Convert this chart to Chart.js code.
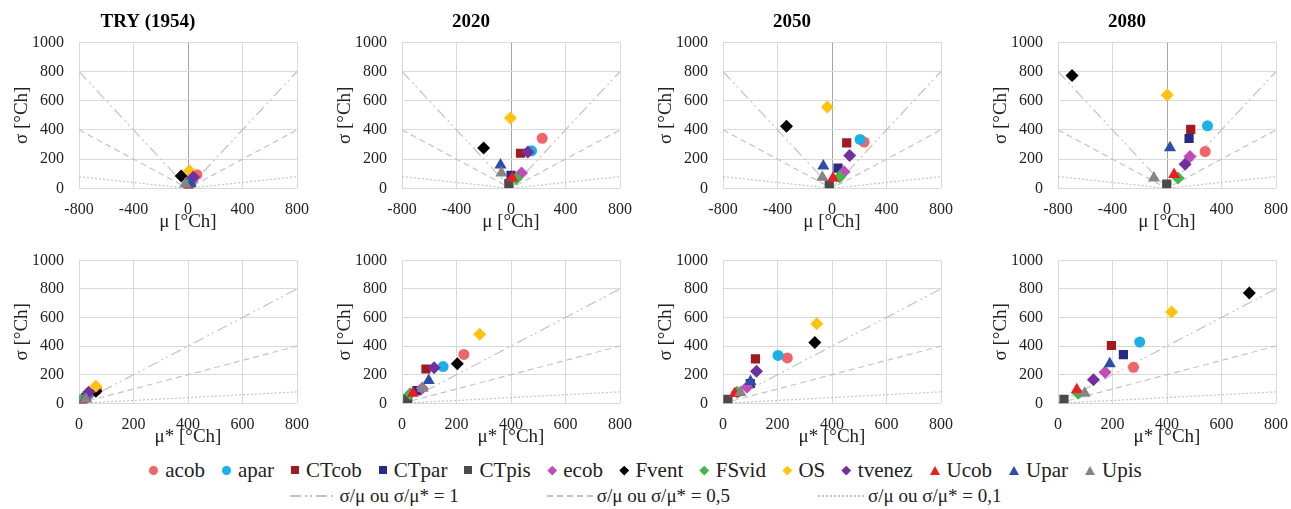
<!DOCTYPE html>
<html>
<head>
<meta charset="utf-8">
<script src="https://cdn.jsdelivr.net/npm/chart.js@4.4.1/dist/chart.umd.min.js"></script>
<style>
  html, body { margin: 0; padding: 0; background: #fff; width: 1291px; height: 509px; overflow: hidden; }
  body { position: relative; font-family: 'Liberation Serif', 'Times New Roman', serif; color: #222; }
  canvas.panel { position: absolute; }
  .legend { position: absolute; left: 0; width: 1291px; display: flex; justify-content: center; align-items: center; white-space: nowrap; }
  .legend .item { display: flex; align-items: center; }
  .mk { display: inline-block; margin-right: 7px; }
  .mk.circle { width: 9px; height: 9px; border-radius: 50%; }
  .mk.rect { width: 8px; height: 8px; }
  .mk.rectRot { width: 6.5px; height: 6.5px; transform: rotate(45deg); margin-left: 1px; margin-right: 8px; }
  .mk.triangle { width: 0; height: 0; border-left: 5px solid transparent; border-right: 5px solid transparent; border-bottom-width: 9px; border-bottom-style: solid; background: none !important; }
</style>
</head>
<body>
<div id="charts"></div>
<div class="legend" id="legend1" style="top:458px;height:24px;font-size:21px;"></div>
<div class="legend" id="legend2" style="top:484px;height:24px;font-size:19px;"></div>
<script>
// Séries, na ordem da legenda
const series = ['acob', 'apar', 'CTcob', 'CTpar', 'CTpis', 'ecob', 'Fvent', 'FSvid', 'OS', 'tvenez', 'Ucob', 'Upar', 'Upis'];
const colors = ['#f0646a', '#1cb1e6', '#a01a1e', '#262c86', '#4a4a4a', '#c04db5', '#000000', '#43b649', '#ffc20e', '#7030a0', '#ee1c25', '#2e4da8', '#858585'];
const shapes = ['circle', 'circle', 'rect', 'rect', 'rect', 'rectRot', 'rectRot', 'rectRot', 'rectRot', 'rectRot', 'triangle', 'triangle', 'triangle'];

const periods = ['TRY (1954)', '2020', '2050', '2080'];

// μ [°Ch] (média dos efeitos elementares)
const muTRY  = [65, 30, 10, 20, 0, 30, -50, 5, 10, 40, 5, 20, -20];
const mu2020 = [229, 151, 70, 0, -16, 77, -201, 38, -4, 124, 9, -77, -70];
const mu2050 = [236, 206, 108, 44, -20, 88, -334, 56, -34, 130, 7, -64, -71];
const mu2080 = [280, 297, 174, 162, -2, 169, -697, 81, 2, 133, 52, 22, -96];

// μ* [°Ch] (média dos valores absolutos)
const muStarTRY  = [65, 35, 15, 25, 10, 30, 62, 5, 62, 35, 15, 25, 25];
const muStar2020 = [227, 151, 88, 55, 21, 74, 203, 30, 285, 118, 40, 98, 76];
const muStar2050 = [236, 202, 119, 100, 18, 88, 337, 52, 344, 123, 43, 101, 64];
const muStar2080 = [277, 300, 196, 240, 22, 173, 702, 74, 417, 130, 69, 190, 98];

// σ [°Ch] (desvio padrão)
const sigmaTRY  = [93, 60, 20, 40, 10, 50, 84, 20, 120, 78, 5, 35, 30];
const sigma2020 = [342, 257, 240, 88, 32, 105, 276, 66, 482, 248, 70, 160, 105];
const sigma2050 = [317, 335, 311, 138, 27, 113, 425, 77, 556, 225, 69, 153, 75];
const sigma2080 = [252, 428, 404, 341, 28, 217, 772, 70, 639, 165, 95, 277, 70];

const mu = [muTRY, mu2020, mu2050, mu2080];
const muStar = [muStarTRY, muStar2020, muStar2050, muStar2080];
const sigma = [sigmaTRY, sigma2020, sigma2050, sigma2080];

// Retas de referência σ/μ
const ratios = [1, 0.5, 0.1];
const ratioLabels = ['σ/μ ou σ/μ* = 1', 'σ/μ ou σ/μ* = 0,5', 'σ/μ ou σ/μ* = 0,1'];
const ratioDash = [[11, 4, 2, 3, 2, 4], [6, 4], [2, 2]];

const FONT = "'Liberation Serif', 'Times New Roman', serif";
Chart.defaults.font.family = FONT;
const radius = { circle: 5.5, rect: 6.5, rectRot: 6.5, triangle: 7 };

// posição de cada painel (esquerda da área de plotagem)
const plotLeft = [79, 402, 723, 1058];
const PLOT_W = 218, YAXIS_W = 80, PAD_R = 13;

function drawPanel(k, bottomRow) {
  const c = document.createElement('canvas');
  c.className = 'panel';
  const W = YAXIS_W + PLOT_W + PAD_R;
  const H = bottomRow ? 208 : 233;
  c.width = W; c.height = H;
  c.style.left = (plotLeft[k] - YAXIS_W) + 'px';
  c.style.top = (bottomRow ? 240 : 0) + 'px';
  document.getElementById('charts').appendChild(c);

  const datasets = [];
  series.forEach(function (name, i) {
    datasets.push({
      type: 'scatter',
      label: name,
      data: [{ x: bottomRow ? muStar[k][i] : mu[k][i], y: sigma[k][i] }],
      pointStyle: shapes[i],
      pointRadius: radius[shapes[i]],
      backgroundColor: colors[i],
      borderColor: colors[i],
      borderWidth: 0,
      order: series.length - i
    });
  });
  ratios.forEach(function (r, j) {
    const pts = bottomRow
      ? [{ x: 0, y: 0 }, { x: 800, y: 800 * r }]
      : [{ x: -800, y: 800 * r }, { x: 0, y: 0 }, { x: 800, y: 800 * r }];
    datasets.push({
      type: 'line', label: ratioLabels[j], data: pts,
      borderColor: '#c4c4c4', borderWidth: 1.2, borderDash: ratioDash[j],
      pointRadius: 0, fill: false, tension: 0, order: 100
    });
  });

  new Chart(c.getContext('2d'), {
    data: { datasets: datasets },
    options: {
      responsive: false,
      animation: false,
      layout: { padding: { top: bottomRow ? 20.3 : 0, right: PAD_R, left: 0, bottom: 0 } },
      plugins: {
        legend: { display: false },
        tooltip: { enabled: false },
        title: {
          display: !bottomRow,
          text: periods[k],
          color: '#000',
          font: { family: FONT, size: 19, weight: 'bold' },
          padding: { top: 10.6, bottom: 8.9 }
        }
      },
      scales: {
        x: {
          type: 'linear',
          min: bottomRow ? 0 : -800,
          max: 800,
          ticks: {
            stepSize: bottomRow ? 200 : 400, color: '#222', font: { family: FONT, size: 16 }, padding: 12, maxRotation: 0,
            callback: function (v) { return String(v); }
          },
          grid: {
            drawTicks: false,
            color: function (ctx) { return (!bottomRow && ctx.tick && ctx.tick.value === 0) ? '#a6a6a6' : '#d9d9d9'; }
          },
          border: { display: false },
          title: { display: true, text: bottomRow ? 'μ* [°Ch]' : 'μ [°Ch]', color: '#222', font: { family: FONT, size: 19 }, padding: 0 },
          afterFit: function (s) { s.height = 44.7; s.paddingLeft = 0; s.paddingRight = 0; }
        },
        y: {
          type: 'linear',
          min: 0,
          max: 1000,
          ticks: {
            stepSize: 200, color: '#222', font: { family: FONT, size: 16 }, padding: 15,
            callback: function (v) { return String(v); }
          },
          grid: { drawTicks: false, color: '#d9d9d9' },
          border: { display: false },
          title: { display: true, text: 'σ [°Ch]', color: '#222', font: { family: FONT, size: 19 }, padding: { top: 11.6, bottom: 0 } },
          afterFit: function (s) { s.width = YAXIS_W; s.paddingTop = 0; s.paddingBottom = 0; }
        }
      }
    }
  });
}

for (let k = 0; k < 4; k++) { drawPanel(k, false); drawPanel(k, true); }

// Legenda (marcadores)
const leg1 = document.getElementById('legend1');
series.forEach(function (name, i) {
  const it = document.createElement('span');
  it.className = 'item';
  it.style.marginRight = i < series.length - 1 ? '17px' : '0';
  const mk = document.createElement('span');
  mk.className = 'mk ' + shapes[i];
  if (shapes[i] === 'triangle') mk.style.borderBottomColor = colors[i];
  else mk.style.background = colors[i];
  it.appendChild(mk);
  it.appendChild(document.createTextNode(name));
  leg1.appendChild(it);
});

// Legenda (retas de referência)
const leg2 = document.getElementById('legend2');
ratioLabels.forEach(function (txt, j) {
  const it = document.createElement('span');
  it.className = 'item';
  it.style.marginRight = j < ratioLabels.length - 1 ? '88px' : '0';
  const svgNS = 'http://www.w3.org/2000/svg';
  const svg = document.createElementNS(svgNS, 'svg');
  svg.setAttribute('width', '46'); svg.setAttribute('height', '10');
  svg.style.marginRight = '4px';
  const ln = document.createElementNS(svgNS, 'line');
  ln.setAttribute('x1', '0'); ln.setAttribute('x2', '46');
  ln.setAttribute('y1', '5'); ln.setAttribute('y2', '5');
  ln.setAttribute('stroke', '#b0b0b0'); ln.setAttribute('stroke-width', '1.3');
  ln.setAttribute('stroke-dasharray', ratioDash[j].join(' '));
  svg.appendChild(ln);
  it.appendChild(svg);
  it.appendChild(document.createTextNode(txt));
  leg2.appendChild(it);
});
</script>
</body>
</html>
